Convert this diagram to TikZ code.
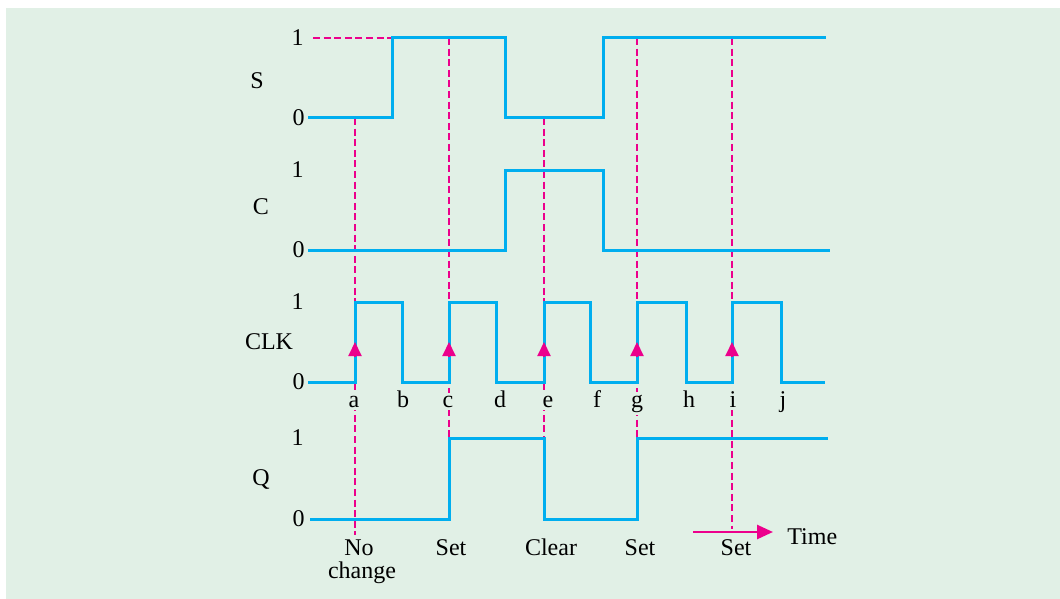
\documentclass[tikz,border=0pt]{standalone}
\usepackage{fontspec}
\setmainfont{Liberation Serif}
\usetikzlibrary{arrows.meta}
\definecolor{bggreen}{HTML}{E1F0E6}
\definecolor{sigblue}{HTML}{00AEEF}
\definecolor{markpink}{HTML}{EC008C}
\tikzset{
  signal/.style={sigblue, line width=1.5pt},
  marker/.style={markpink, line width=1.4pt, dash pattern=on 3.5pt off 1.8pt},
  edgetip/.style={markpink, line width=1pt, -{Triangle[width=6.5pt,length=7pt]}},
  lvl/.style={anchor=east, inner sep=0pt},
  sig/.style={inner sep=0pt},
  tick/.style={anchor=base, inner sep=0pt},
  instant/.style={tick, fill=bggreen, inner ysep=1.5pt, inner xsep=1pt}
}
\begin{document}
\begin{tikzpicture}[x=0.5pt, y=-0.5pt, every node/.style={font=\fontsize{12}{13}\selectfont}]
  \useasboundingbox (0,0) rectangle (1060,599);
  % Background panel
  \fill[bggreen] (6,8) rectangle (1060,599);
  % Signal names
  \node[sig] (nameS) at (257,81) {S};
  \node[sig] (nameC) at (261,207) {C};
  \node[sig] (nameCLK) at (269,342) {CLK};
  \node[sig] (nameQ) at (261,479) {Q};
  % Logic levels
  \foreach \n/\hi/\lo in {S/38/118, C/170/250, CLK/302/382, Q/438/519} {
    \node[lvl] (one\n) at (304,\hi) {1};
    \node[lvl] (zero\n) at (305,\lo) {0};
  }
  % Dashed markers through the clock edges
  \coordinate (sHiStart) at (313,38);
  \coordinate (sHiEnd) at (392,38);
  \draw[marker] (sHiStart) -- (sHiEnd);
  \foreach \n/\x/\top/\bot in {a/355/118/535, c/449/38/438, e/544/118/438, g/637/38/438, i/732/38/529} {
    \coordinate (top\n) at (\x,\top);
    \coordinate (bot\n) at (\x,\bot);
    \draw[marker] (top\n) -- (bot\n);
  }
  % S input
  \draw[signal] (308,118) -| (392,38) -| (505,118) -| (603,38) -- (826,38);
  % C input
  \draw[signal] (308,250) -| (505,170) -| (603,250) -- (830,250);
  % Clock
  \draw[signal] (308,382) -| (355,302) -| (402,382) -| (449,302) -| (496,382)
    -| (544,302) -| (590,382) -| (637,302) -| (686,382) -| (732,302)
    -| (781,382) -- (825,382);
  % Output Q
  \draw[signal] (310,519) -| (449,438) -| (544,519) -| (637,438) -- (828,438);
  % Rising edge arrows
  \foreach \x in {355, 449, 544, 637, 732} {
    \draw[edgetip] (\x,357) -- (\x,342);
  }
  % Clock instants
  \foreach \t/\x in {a/354, b/403, c/448, d/500, e/548, f/597, g/637, h/689, i/733, j/783} {
    \node[instant] (tick\t) at (\x,407) {\t};
  }
  % Results
  \node[tick] (no) at (359,555) {No};
  \node[tick] (change) at (362,578) {change};
  \node[tick] (setC) at (451,555) {Set};
  \node[tick] (clearE) at (551,555) {Clear};
  \node[tick] (setG) at (640,555) {Set};
  \node[tick] (setI) at (736,555) {Set};
  % Time axis
  \node[sig, anchor=west] (time) at (787,537) {Time};
  \coordinate (tStart) at (693,532);
  \coordinate (tEnd) at (773,532);
  \draw[markpink, line width=1.3pt, -{Triangle[width=7pt,length=8pt]}] (tStart) -- (tEnd);
\end{tikzpicture}
\end{document}
